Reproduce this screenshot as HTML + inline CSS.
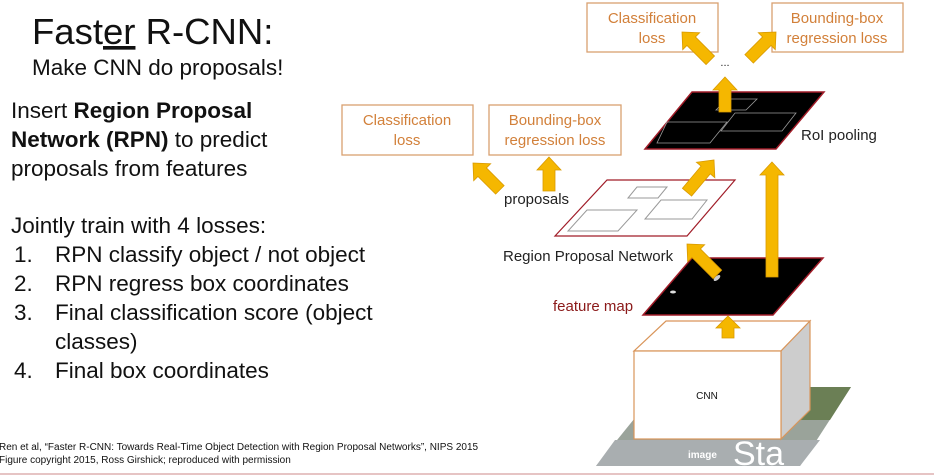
<!DOCTYPE html>
<html><head><meta charset="utf-8"><style>
html,body{margin:0;padding:0;background:#fff;}
svg{display:block;}
</style></head><body>
<svg width="934" height="475" viewBox="0 0 934 475" xmlns="http://www.w3.org/2000/svg">
<g font-family="Liberation Sans, Arial, sans-serif" fill="#111">
<text x="32" y="44" font-size="36.5">Fast<tspan text-decoration="underline">er</tspan> R-CNN:</text>
<text x="32" y="75" font-size="22.5">Make CNN do proposals!</text>
<text x="11" y="118" font-size="22.5">Insert <tspan font-weight="bold">Region Proposal</tspan></text>
<text x="11" y="147" font-size="22.5"><tspan font-weight="bold">Network (RPN)</tspan> to predict</text>
<text x="11" y="176" font-size="22.5">proposals from features</text>
<text x="11" y="233" font-size="22.5">Jointly train with 4 losses:</text>
<text x="14" y="262" font-size="22.5">1.</text><text x="55" y="262" font-size="22.5">RPN classify object / not object</text>
<text x="14" y="291" font-size="22.5">2.</text><text x="55" y="291" font-size="22.5">RPN regress box coordinates</text>
<text x="14" y="320" font-size="22.5">3.</text><text x="55" y="320" font-size="22.5">Final classification score (object</text>
<text x="55" y="349" font-size="22.5">classes)</text>
<text x="14" y="378" font-size="22.5">4.</text><text x="55" y="378" font-size="22.5">Final box coordinates</text>
<text x="-1" y="450" font-size="10">Ren et al, “Faster R-CNN: Towards Real-Time Object Detection with Region Proposal Networks”, NIPS 2015</text>
<text x="-1" y="463" font-size="10">Figure copyright 2015, Ross Girshick; reproduced with permission</text>
</g>
<line x1="0" y1="474" x2="934" y2="474" stroke="#c88" stroke-width="1"/>

<!-- image plane -->
<polygon points="660,387 851,387 800,466 596,466" fill="#9aa39a"/>
<polygon points="660,387 851,387 830,420 640,420" fill="#6b7f55"/>
<polygon points="596,466 800,466 820,440 615,440" fill="#a9aeb0"/>
<text x="688" y="458" font-family="Liberation Sans, sans-serif" font-size="10" font-weight="bold" fill="#fff">image</text>
<text x="733" y="465" font-family="Liberation Sans, sans-serif" font-size="34" fill="#fff">Sta</text>

<!-- CNN box -->
<polygon points="666,321 810,321 781,351 634,351" fill="#fff" stroke="#d9955a" stroke-width="1.2"/>
<polygon points="781,351 810,321 810,410 781,439" fill="#cdcdcd" stroke="#d9955a" stroke-width="1.2"/>
<rect x="634" y="351" width="147" height="88" fill="#fff" stroke="#d9955a" stroke-width="1.2"/>
<text x="707" y="399" font-family="Liberation Sans, sans-serif" font-size="10" text-anchor="middle" fill="#111">CNN</text>

<!-- feature map -->
<polygon points="692,258 823,258 773,315 643,315" fill="#000" stroke="#a01c28" stroke-width="1.5"/>
<ellipse cx="717" cy="278" rx="4" ry="2" fill="#ccc" transform="rotate(-40 717 278)"/>
<ellipse cx="673" cy="292" rx="3" ry="1.5" fill="#ddd"/>
<text x="553" y="311" font-family="Liberation Sans, sans-serif" font-size="15" fill="#8b1a1a">feature map</text>
<text x="503" y="261" font-family="Liberation Sans, sans-serif" font-size="15" fill="#222">Region Proposal Network</text>

<!-- proposals plane -->
<polygon points="607,180 735,180 687,236 555,236" fill="#fff" stroke="#a01c28" stroke-width="1.2"/>
<polygon points="637,187 667,187 658,198 628,198" fill="none" stroke="#999"/>
<polygon points="587,210 637,210 618,231 568,231" fill="none" stroke="#999"/>
<polygon points="661,200 707,200 692,219 645,219" fill="none" stroke="#999"/>
<text x="504" y="204" font-family="Liberation Sans, sans-serif" font-size="15" fill="#222">proposals</text>

<!-- RoI plane -->
<polygon points="692,92 824,92 776,149 645,149" fill="#000" stroke="#a01c28" stroke-width="1.5"/>
<polygon points="727,99 757,99 746,110 716,110" fill="none" stroke="#999" stroke-width="0.8"/>
<polygon points="667,122 727,122 710,143 657,143" fill="none" stroke="#999" stroke-width="0.8"/>
<polygon points="735,113 796,113 782,131 721,131" fill="none" stroke="#999" stroke-width="0.8"/>
<text x="801" y="140" font-family="Liberation Sans, sans-serif" font-size="15" fill="#222">RoI pooling</text>
<text x="725" y="66" font-family="Liberation Sans, sans-serif" font-size="11" text-anchor="middle" fill="#222">...</text>

<!-- loss boxes -->
<g font-family="Liberation Sans, sans-serif" font-size="15" fill="#d2803a" text-anchor="middle">
<rect x="342" y="105" width="131" height="50" fill="#fff" stroke="#d9a070" stroke-width="1.3"/>
<text x="407" y="125">Classification</text><text x="407" y="145">loss</text>
<rect x="489" y="105" width="132" height="50" fill="#fff" stroke="#d9a070" stroke-width="1.3"/>
<text x="555" y="125">Bounding-box</text><text x="555" y="145">regression loss</text>
<rect x="587" y="3" width="131" height="49" fill="#fff" stroke="#d9a070" stroke-width="1.3"/>
<text x="652" y="23">Classification</text><text x="652" y="43">loss</text>
<rect x="772" y="3" width="131" height="49" fill="#fff" stroke="#d9a070" stroke-width="1.3"/>
<text x="837" y="23">Bounding-box</text><text x="837" y="43">regression loss</text>
</g>

<!-- arrows -->
<g fill="#f5b700" stroke="#d99a00" stroke-width="0.8">
<path transform="translate(682,32) rotate(-45)" d="M0,0 L12,13 L6,13 L6,40 L-6,40 L-6,13 L-12,13 Z"/>
<path transform="translate(776,32) rotate(45)" d="M0,0 L12,13 L6,13 L6,38 L-6,38 L-6,13 L-12,13 Z"/>
<path transform="translate(725,77)" d="M0,0 L12,13 L6,13 L6,35 L-6,35 L-6,13 L-12,13 Z"/>
<path transform="translate(714,160) rotate(40)" d="M0,0 L12,13 L6,13 L6,42 L-6,42 L-6,13 L-12,13 Z"/>
<path transform="translate(772,162)" d="M0,0 L12,13 L6,13 L6,115 L-6,115 L-6,13 L-12,13 Z"/>
<path transform="translate(549,157)" d="M0,0 L12,13 L6,13 L6,34 L-6,34 L-6,13 L-12,13 Z"/>
<path transform="translate(473,163) rotate(-45)" d="M0,0 L12,13 L6,13 L6,38 L-6,38 L-6,13 L-12,13 Z"/>
<path transform="translate(687,244) rotate(-45)" d="M0,0 L12,13 L6,13 L6,43 L-6,43 L-6,13 L-12,13 Z"/>
<path transform="translate(728,316)" d="M0,0 L12,12 L6,12 L6,22 L-6,22 L-6,12 L-12,12 Z"/>
</g>
</svg>
</body></html>
